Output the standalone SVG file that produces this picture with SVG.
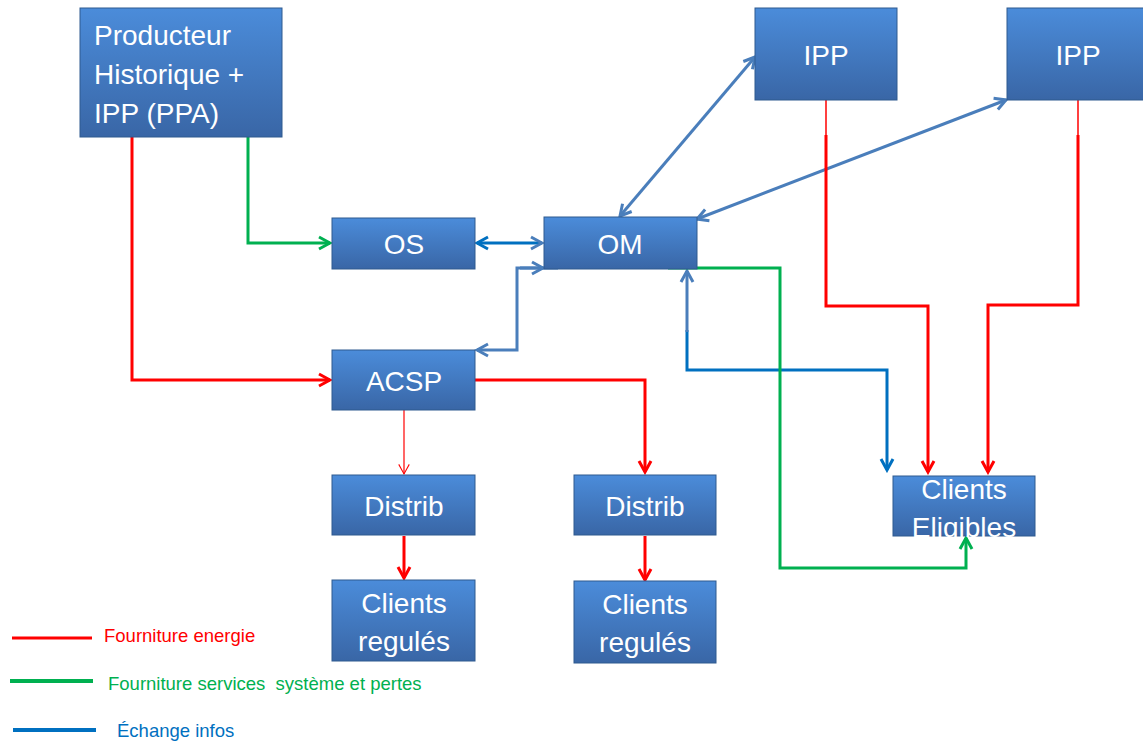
<svg xmlns="http://www.w3.org/2000/svg" width="1143" height="746" viewBox="0 0 1143 746">
<defs>
<linearGradient id="g" x1="0" y1="0" x2="0" y2="1">
<stop offset="0" stop-color="#4B8CDA"/>
<stop offset="1" stop-color="#3966A6"/>
</linearGradient>
<marker id="ar" viewBox="0 0 16 16" refX="13" refY="8" markerWidth="16" markerHeight="16" markerUnits="userSpaceOnUse" orient="auto-start-reverse">
<path d="M2,2 L13,8 L2,14" fill="none" stroke="#FF0000" stroke-width="3"/>
</marker>
<marker id="art" viewBox="0 0 16 16" refX="13" refY="8" markerWidth="14" markerHeight="14" markerUnits="userSpaceOnUse" orient="auto-start-reverse">
<path d="M2,2 L13,8 L2,14" fill="none" stroke="#FF0000" stroke-width="1.2"/>
</marker>
<marker id="ag" viewBox="0 0 16 16" refX="13" refY="8" markerWidth="16" markerHeight="16" markerUnits="userSpaceOnUse" orient="auto-start-reverse">
<path d="M2,2 L13,8 L2,14" fill="none" stroke="#00B050" stroke-width="3"/>
</marker>
<marker id="ab" viewBox="0 0 16 16" refX="13" refY="8" markerWidth="16" markerHeight="16" markerUnits="userSpaceOnUse" orient="auto-start-reverse">
<path d="M2,2 L13,8 L2,14" fill="none" stroke="#4A7EBB" stroke-width="3"/>
</marker>
<marker id="ab2" viewBox="0 0 16 16" refX="13" refY="8" markerWidth="16" markerHeight="16" markerUnits="userSpaceOnUse" orient="auto-start-reverse">
<path d="M2,2 L13,8 L2,14" fill="none" stroke="#0070C0" stroke-width="3"/>
</marker>
</defs>
<style>
.box{fill:url(#g);stroke:#2F5A8F;stroke-width:1}
.t{font-family:"Liberation Sans",Arial,sans-serif;fill:#FFFFFF;font-size:28px}
.r{fill:none;stroke:#FF0000;stroke-width:3}
.gr{fill:none;stroke:#00B050;stroke-width:3}
.b{fill:none;stroke:#4A7EBB;stroke-width:3}
.b2{fill:none;stroke:#0070C0;stroke-width:3}
.lg{font-family:"Liberation Sans",Arial,sans-serif;font-size:18.5px;white-space:pre}
</style>
<g id="connectors">
<path class="r" d="M132,137 V380 H330" marker-end="url(#ar)"/>
<path class="gr" d="M248,100 V243 H330" marker-end="url(#ag)"/>
<path class="b2" d="M477,243 H542" marker-start="url(#ab2)" marker-end="url(#ab)"/>
<path class="b" d="M558,268 H517 V350 H477" marker-end="url(#ab)"/>
<path class="b" d="M520,268 H543" marker-end="url(#ab)"/>
<path class="b" d="M620,216 L755,57" marker-start="url(#ab)" marker-end="url(#ab)"/>
<path class="b" d="M672,233 L697,219"/>
<path class="b" d="M697,219 L1006,100" marker-start="url(#ab)" marker-end="url(#ab)"/>
<path class="b2" d="M887,470 V370 H687 V330" marker-start="url(#ab2)"/>
<path class="b" d="M687,332 V271" marker-end="url(#ab)"/>
<path class="gr" d="M668,268 H780 V568 H966 V538" marker-end="url(#ag)"/>
<path d="M826,100 V135" stroke="#FF0000" stroke-width="1.5" fill="none"/>
<path class="r" d="M826,135 V306 H928 V472" marker-end="url(#ar)"/>
<path d="M1078,100 V135" stroke="#FF0000" stroke-width="1.5" fill="none"/>
<path class="r" d="M1078,135 V305 H988 V472" marker-end="url(#ar)"/>
<path class="r" d="M475,380 H645 V472" marker-end="url(#ar)"/>
<path d="M404,410 V474" stroke="#FF0000" stroke-width="1.2" fill="none" marker-end="url(#art)"/>
<path class="r" d="M404,536 V578" marker-end="url(#ar)"/>
<path class="r" d="M645,536 V580" marker-end="url(#ar)"/>
</g>
<g id="producteur">
<rect class="box" x="80" y="8" width="202" height="129"/>
<text class="t" x="94" y="45">Producteur</text>
<text class="t" x="94" y="84">Historique +</text>
<text class="t" x="94" y="123">IPP (PPA)</text>
</g>
<g id="os">
<rect class="box" x="332" y="218" width="143" height="51"/>
<text class="t" x="404" y="254" text-anchor="middle">OS</text>
</g>
<g id="om">
<rect class="box" x="544" y="217" width="153" height="52"/>
<text class="t" x="620" y="254" text-anchor="middle">OM</text>
</g>
<g id="acsp">
<rect class="box" x="332" y="350" width="143" height="60"/>
<text class="t" x="404" y="391" text-anchor="middle">ACSP</text>
</g>
<g id="distrib1">
<rect class="box" x="332" y="475" width="143" height="60"/>
<text class="t" x="404" y="516" text-anchor="middle">Distrib</text>
</g>
<g id="distrib2">
<rect class="box" x="574" y="475" width="142" height="60"/>
<text class="t" x="645" y="516" text-anchor="middle">Distrib</text>
</g>
<g id="clients1">
<rect class="box" x="332" y="580" width="143" height="81"/>
<text class="t" x="404" y="613" text-anchor="middle">Clients</text>
<text class="t" x="404" y="651" text-anchor="middle">regulés</text>
</g>
<g id="clients2">
<rect class="box" x="574" y="581" width="142" height="82"/>
<text class="t" x="645" y="614" text-anchor="middle">Clients</text>
<text class="t" x="645" y="652" text-anchor="middle">regulés</text>
</g>
<g id="ipp1">
<rect class="box" x="755" y="8" width="142" height="92"/>
<text class="t" x="826" y="65" text-anchor="middle">IPP</text>
</g>
<g id="ipp2">
<rect class="box" x="1007" y="8" width="145" height="92"/>
<text class="t" x="1078" y="65" text-anchor="middle">IPP</text>
</g>
<g id="eligibles">
<rect class="box" x="893" y="476" width="142" height="60"/>
<text class="t" x="964" y="499" text-anchor="middle">Clients</text>
<text class="t" x="964" y="537" text-anchor="middle">Eligibles</text>
</g>
<g id="legend">
<line x1="12" y1="638" x2="92" y2="638" stroke="#FF0000" stroke-width="3"/>
<text class="lg" x="104" y="642" fill="#FF0000">Fourniture energie</text>
<line x1="10" y1="681" x2="93" y2="681" stroke="#00B050" stroke-width="4"/>
<text class="lg" x="108" y="690" fill="#00B050" xml:space="preserve">Fourniture services  système et pertes</text>
<line x1="13" y1="730" x2="96" y2="730" stroke="#0070C0" stroke-width="4"/>
<text class="lg" x="117" y="737" fill="#0070C0">Échange infos</text>
</g>
</svg>
